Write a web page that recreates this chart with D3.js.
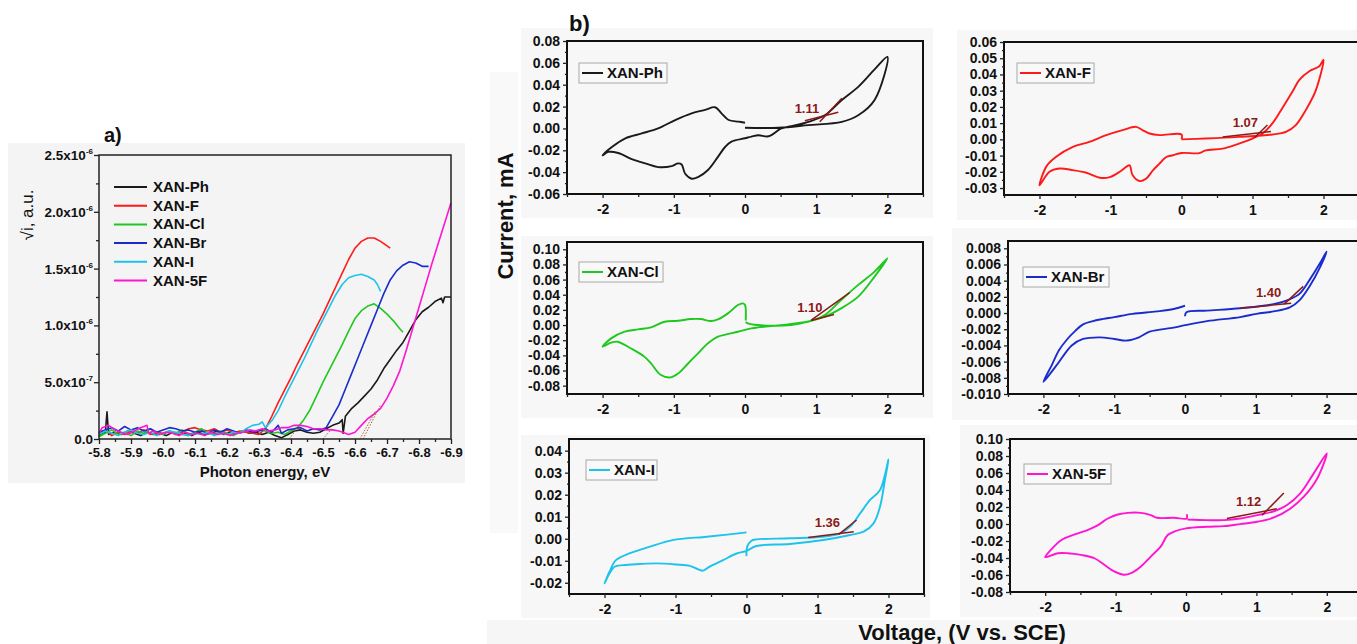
<!DOCTYPE html>
<html>
<head>
<meta charset="utf-8">
<script src="https://cdn.jsdelivr.net/npm/d3@7"></script>
<style>
  body { margin: 0; background: #fff; }
  text { font-family: Arial, "Liberation Sans", sans-serif; }
</style>
</head>
<body>
<script>
// ---------- panel a : UPS spectra (sqrt i, in units of 1e-6) ----------
const upsNames = ["XAN-Ph", "XAN-F", "XAN-Cl", "XAN-Br", "XAN-I", "XAN-5F"];
const seriesColors = ["#1a1a1a", "#ff1a1a", "#1ec81e", "#1a2ccc", "#1ec3eb", "#ff14d2"];
const energyTicks = [-5.8, -5.9, -6.0, -6.1, -6.2, -6.3, -6.4, -6.5, -6.6, -6.7, -6.8, -6.9];
const energyMinor = [-5.85, -5.95, -6.05, -6.15, -6.25, -6.35, -6.45, -6.55, -6.65, -6.75, -6.85];
const upsYTicks = [0, 0.5, 1.0, 1.5, 2.0, 2.5];
const upsYMinor = [0.25, 0.75, 1.25, 1.75, 2.25];
const upsYLabels = [["0.0", ""], ["5.0x10", "-7"], ["1.0x10", "-6"], ["1.5x10", "-6"], ["2.0x10", "-6"], ["2.5x10", "-6"]];

const upsPh = [[-5.80,0.03],[-5.81,0.05],[-5.82,0.06],[-5.825,0.24],[-5.83,0.04],[-5.85,0.06],[-5.87,0.04],[-5.89,0.07],
  [-5.91,0.05],[-5.93,0.03],[-5.95,0.06],[-5.97,0.04],[-5.99,0.05],[-6.01,0.03],[-6.03,0.06],[-6.05,0.04],[-6.07,0.05],
  [-6.09,0.03],[-6.11,0.06],[-6.13,0.04],[-6.15,0.05],[-6.17,0.07],[-6.19,0.04],[-6.21,0.06],[-6.23,0.05],[-6.25,0.07],
  [-6.27,0.05],[-6.29,0.06],[-6.31,0.04],[-6.33,0.06],[-6.35,0.03],[-6.37,0.01],[-6.39,0.04],[-6.41,0.07],[-6.43,0.08],
  [-6.45,0.06],[-6.47,0.05],[-6.49,0.06],[-6.51,0.09],[-6.53,0.12],[-6.55,0.14],[-6.56,0.17],[-6.563,0.05],[-6.57,0.2],
  [-6.59,0.27],[-6.61,0.32],[-6.63,0.38],[-6.65,0.44],[-6.67,0.52],[-6.69,0.62],[-6.71,0.70],[-6.73,0.78],[-6.75,0.85],
  [-6.77,0.95],[-6.79,1.05],[-6.81,1.12],[-6.83,1.16],[-6.85,1.21],[-6.87,1.24],[-6.875,1.20],[-6.88,1.25],[-6.9,1.25]];
const upsF = [[-5.80,0.05],[-5.82,0.08],[-5.84,0.03],[-5.86,0.06],[-5.88,0.04],[-5.90,0.07],[-5.92,0.05],[-5.94,0.08],
  [-5.96,0.04],[-5.98,0.06],[-6.00,0.05],[-6.02,0.07],[-6.04,0.04],[-6.06,0.06],[-6.08,0.09],[-6.10,0.10],[-6.12,0.08],
  [-6.14,0.07],[-6.16,0.09],[-6.18,0.06],[-6.20,0.08],[-6.22,0.05],[-6.24,0.07],[-6.26,0.06],[-6.28,0.05],[-6.30,0.04],
  [-6.32,0.09],[-6.34,0.20],[-6.36,0.32],[-6.38,0.43],[-6.40,0.54],[-6.42,0.66],[-6.44,0.77],[-6.46,0.88],[-6.48,0.99],
  [-6.50,1.10],[-6.52,1.22],[-6.54,1.34],[-6.56,1.46],[-6.58,1.58],[-6.60,1.68],[-6.61,1.71],[-6.62,1.74],[-6.64,1.77],
  [-6.66,1.77],[-6.68,1.74],[-6.70,1.70],[-6.71,1.68]];
const upsCl = [[-5.80,0.02],[-5.82,0.05],[-5.84,0.08],[-5.86,0.04],[-5.88,0.06],[-5.90,0.03],[-5.92,0.07],[-5.94,0.05],
  [-5.96,0.09],[-5.98,0.06],[-6.00,0.04],[-6.02,0.07],[-6.04,0.05],[-6.06,0.08],[-6.08,0.04],[-6.10,0.06],[-6.12,0.09],
  [-6.14,0.05],[-6.16,0.04],[-6.18,0.07],[-6.20,0.05],[-6.22,0.03],[-6.24,0.06],[-6.26,0.08],[-6.28,0.06],[-6.30,0.08],
  [-6.32,0.07],[-6.34,0.05],[-6.36,0.06],[-6.38,0.04],[-6.40,0.07],[-6.42,0.10],[-6.44,0.17],[-6.46,0.26],[-6.48,0.38],
  [-6.50,0.50],[-6.52,0.61],[-6.54,0.72],[-6.56,0.83],[-6.58,0.95],[-6.60,1.06],[-6.62,1.13],[-6.64,1.17],[-6.66,1.19],
  [-6.68,1.15],[-6.70,1.10],[-6.72,1.04],[-6.74,0.97],[-6.75,0.94]];
const upsBr = [[-5.80,0.06],[-5.82,0.08],[-5.84,0.10],[-5.86,0.07],[-5.88,0.11],[-5.90,0.08],[-5.92,0.10],[-5.94,0.07],
  [-5.96,0.09],[-5.98,0.06],[-6.00,0.08],[-6.02,0.10],[-6.04,0.09],[-6.06,0.07],[-6.08,0.08],[-6.10,0.06],[-6.12,0.07],
  [-6.14,0.05],[-6.16,0.08],[-6.18,0.06],[-6.20,0.09],[-6.22,0.07],[-6.24,0.05],[-6.26,0.08],[-6.28,0.06],[-6.30,0.07],
  [-6.32,0.09],[-6.34,0.06],[-6.36,0.12],[-6.37,0.05],[-6.39,0.08],[-6.41,0.09],[-6.43,0.10],[-6.45,0.07],[-6.47,0.09],
  [-6.49,0.08],[-6.51,0.10],[-6.53,0.20],[-6.55,0.30],[-6.57,0.44],[-6.59,0.58],[-6.61,0.72],[-6.63,0.86],[-6.65,1.00],
  [-6.67,1.14],[-6.69,1.28],[-6.71,1.40],[-6.73,1.48],[-6.75,1.53],[-6.77,1.56],[-6.79,1.55],[-6.81,1.52],[-6.83,1.52]];
const upsI = [[-5.80,0.04],[-5.82,0.07],[-5.84,0.05],[-5.86,0.03],[-5.88,0.06],[-5.90,0.08],[-5.92,0.05],[-5.94,0.04],
  [-5.96,0.06],[-5.98,0.03],[-6.00,0.05],[-6.02,0.07],[-6.04,0.06],[-6.06,0.04],[-6.08,0.03],[-6.10,0.05],[-6.12,0.04],
  [-6.14,0.06],[-6.16,0.03],[-6.18,0.05],[-6.20,0.04],[-6.22,0.06],[-6.24,0.05],[-6.26,0.09],[-6.28,0.12],[-6.30,0.13],
  [-6.31,0.15],[-6.32,0.10],[-6.34,0.16],[-6.36,0.25],[-6.38,0.37],[-6.40,0.48],[-6.42,0.59],[-6.44,0.70],[-6.46,0.82],
  [-6.48,0.94],[-6.50,1.05],[-6.52,1.16],[-6.54,1.27],[-6.56,1.36],[-6.58,1.42],[-6.60,1.44],[-6.62,1.45],[-6.64,1.43],
  [-6.66,1.40],[-6.67,1.36],[-6.68,1.30]];
const ups5F = [[-5.80,0.05],[-5.81,0.10],[-5.83,0.12],[-5.85,0.08],[-5.87,0.06],[-5.89,0.04],[-5.91,0.07],[-5.93,0.10],
  [-5.95,0.12],[-5.955,0.05],[-5.97,0.07],[-5.99,0.04],[-6.01,0.06],[-6.03,0.05],[-6.05,0.03],[-6.07,0.06],[-6.09,0.04],
  [-6.11,0.05],[-6.13,0.03],[-6.15,0.06],[-6.17,0.04],[-6.19,0.05],[-6.21,0.03],[-6.23,0.05],[-6.25,0.06],[-6.27,0.08],
  [-6.29,0.07],[-6.31,0.09],[-6.33,0.07],[-6.35,0.08],[-6.37,0.10],[-6.39,0.10],[-6.41,0.12],[-6.43,0.12],[-6.45,0.11],
  [-6.47,0.09],[-6.49,0.09],[-6.51,0.08],[-6.53,0.08],[-6.55,0.07],[-6.57,0.05],[-6.58,0.04],[-6.60,0.06],[-6.62,0.12],
  [-6.64,0.18],[-6.66,0.22],[-6.68,0.27],[-6.70,0.36],[-6.72,0.47],[-6.74,0.60],[-6.76,0.78],[-6.78,0.97],[-6.80,1.16],
  [-6.82,1.35],[-6.84,1.54],[-6.86,1.72],[-6.88,1.90],[-6.90,2.08]];
const upsSeries = [upsPh, upsF, upsCl, upsBr, upsI, ups5F];
// dotted onset extrapolations near the baseline
const upsOnsets = [[[-6.395,0],[-6.425,0.12]], [[-6.50,0],[-6.53,0.10]], [[-6.615,0],[-6.665,0.25]], [[-6.625,0],[-6.68,0.30]]];

// ---------- panel b : cyclic voltammograms, [V, mA] ----------
const voltTicks = [-2, -1, 0, 1, 2];
const voltMinor = [-2.5, -1.5, -0.5, 0.5, 1.5, 2.5];

const cvPh = [[0.00,0.0006],[0.47,0.0006],[0.89,0.003],[1.36,0.006],[1.59,0.012],[1.82,0.026],[2.0,0.0655],
  [1.82,0.054],[1.59,0.038],[1.36,0.026],[1.12,0.012],[0.89,0.006],[0.65,0.002],[0.51,0.0],[0.33,-0.0072],[0.19,-0.0062],
  [0.09,-0.0075],[0.0,-0.009],[-0.19,-0.012],[-0.28,-0.017],[-0.38,-0.026],[-0.52,-0.038],[-0.66,-0.0445],[-0.75,-0.046],
  [-0.84,-0.0415],[-0.89,-0.033],[-0.94,-0.032],[-1.03,-0.0345],[-1.22,-0.0354],[-1.40,-0.032],[-1.59,-0.028],
  [-1.78,-0.0225],[-1.92,-0.0215],[-2.0,-0.0246],[-1.87,-0.017],[-1.68,-0.009],[-1.45,-0.0046],[-1.22,0.0],
  [-0.98,0.0077],[-0.75,0.0138],[-0.56,0.017],[-0.42,0.0194],[-0.33,0.0138],[-0.23,0.0077],[-0.09,0.0062],[0.0,0.0052]];
const cvF = [[0.0,0.0],[0.34,0.0005],[0.81,0.0015],[1.28,0.003],[1.47,0.0046],[1.61,0.0088],[1.75,0.018],[1.89,0.030],
  [2.0,0.049],[1.94,0.045],[1.8,0.042],[1.66,0.0367],[1.57,0.030],[1.43,0.020],[1.28,0.0098],[1.14,0.0036],[1.0,0.0005],
  [0.81,-0.0026],[0.58,-0.0057],[0.34,-0.0068],[0.25,-0.0085],[0.0,-0.0084],[-0.12,-0.0098],[-0.22,-0.011],[-0.31,-0.015],
  [-0.4,-0.019],[-0.5,-0.0243],[-0.59,-0.0257],[-0.69,-0.022],[-0.73,-0.016],[-0.78,-0.017],[-0.87,-0.020],
  [-1.01,-0.0233],[-1.15,-0.0237],[-1.34,-0.0206],[-1.53,-0.019],[-1.72,-0.018],[-1.86,-0.020],[-2.0,-0.0284],
  [-1.9,-0.0165],[-1.77,-0.0109],[-1.53,-0.0047],[-1.3,-0.0016],[-1.06,0.0026],[-0.83,0.0057],[-0.64,0.0077],
  [-0.55,0.0057],[-0.45,0.0036],[-0.31,0.0026],[0.0,0.003],[0.0,0.0]];
const cvCl = [[0.01,0.004],[0.04,0.0022],[0.18,0.0],[0.65,0.0],[0.88,0.0044],[1.12,0.011],[1.35,0.022],[1.59,0.0375],
  [1.82,0.064],[2.0,0.088],[1.82,0.0705],[1.59,0.053],[1.35,0.033],[1.12,0.0132],[0.93,0.0057],[0.65,0.0013],
  [0.18,-0.0031],[0.09,-0.0044],[-0.1,-0.0088],[-0.29,-0.013],[-0.38,-0.0154],[-0.52,-0.024],[-0.66,-0.0374],
  [-0.8,-0.0507],[-0.94,-0.064],[-1.04,-0.069],[-1.18,-0.066],[-1.32,-0.0507],[-1.41,-0.042],[-1.6,-0.031],
  [-1.79,-0.022],[-1.88,-0.0233],[-2.0,-0.0286],[-1.88,-0.0176],[-1.69,-0.0088],[-1.5,-0.0057],[-1.32,-0.0031],
  [-1.13,0.0044],[-0.94,0.0057],[-0.76,0.0079],[-0.62,0.0079],[-0.48,0.0053],[-0.38,0.0075],[-0.24,0.0154],
  [-0.1,0.0264],[-0.03,0.0286],[0.0,0.0264],[0.01,0.006]];
const cvBr = [[0.0,-0.0004],[0.02,0.0001],[0.31,0.0003],[0.78,0.0006],[1.25,0.0011],[1.48,0.0017],[1.62,0.0024],
  [1.76,0.0041],[1.91,0.0062],[2.0,0.0076],[1.91,0.0057],[1.76,0.0033],[1.62,0.0016],[1.48,0.0007],[1.25,0.0002],
  [1.01,-0.0001],[0.78,-0.0005],[0.31,-0.001],[0.0,-0.0015],[-0.16,-0.0018],[-0.5,-0.0023],[-0.65,-0.0030],
  [-0.82,-0.0034],[-1.0,-0.0032],[-1.2,-0.0030],[-1.44,-0.0032],[-1.6,-0.0040],[-1.81,-0.0064],[-2.0,-0.0085],
  [-1.88,-0.0064],[-1.78,-0.0046],[-1.67,-0.0033],[-1.55,-0.0022],[-1.44,-0.0014],[-1.3,-0.0010],[-1.2,-0.0008],
  [-1.0,-0.0005],[-0.74,-0.0001],[-0.4,0.0002],[-0.16,0.0005],[0.0,0.0009]];
const cvI = [[0.0,-0.0079],[0.01,-0.0036],[0.07,-0.0009],[0.14,-0.0003],[0.61,0.0002],[1.08,0.0009],[1.32,0.0024],
  [1.46,0.0055],[1.6,0.0115],[1.74,0.0176],[1.88,0.0221],[2.0,0.036],[1.95,0.0267],[1.88,0.0145],[1.79,0.007],
  [1.65,0.0032],[1.46,0.0017],[1.08,-0.0006],[0.61,-0.0024],[0.14,-0.0033],[0.0,-0.0055],[-0.14,-0.0067],
  [-0.33,-0.0097],[-0.52,-0.0127],[-0.61,-0.0145],[-0.68,-0.0139],[-0.8,-0.0123],[-0.99,-0.0117],[-1.27,-0.0112],
  [-1.51,-0.0115],[-1.74,-0.012],[-1.86,-0.0127],[-1.93,-0.0158],[-2.0,-0.0203],[-1.93,-0.015],[-1.84,-0.0097],
  [-1.65,-0.0067],[-1.36,-0.0036],[-1.04,-0.0006],[-0.56,0.0009],[-0.24,0.002],[0.0,0.0029]];
const cv5F = [[0.02,0.0053],[0.3,0.0045],[0.54,0.0045],[0.77,0.0065],[1.01,0.0104],[1.25,0.015],[1.43,0.022],
  [1.62,0.0357],[1.81,0.059],[2.0,0.083],[1.86,0.053],[1.67,0.0318],[1.48,0.018],[1.25,0.0077],[1.01,0.0026],
  [0.77,-0.0001],[0.54,-0.0025],[0.3,-0.0033],[0.0,-0.0052],[-0.17,-0.009],[-0.26,-0.013],[-0.36,-0.0266],
  [-0.5,-0.0383],[-0.64,-0.05],[-0.78,-0.0578],[-0.88,-0.0597],[-1.02,-0.0558],[-1.16,-0.048],[-1.3,-0.0403],
  [-1.49,-0.0364],[-1.68,-0.0344],[-1.82,-0.0344],[-2.0,-0.039],[-1.92,-0.0305],[-1.77,-0.0188],[-1.58,-0.0122],
  [-1.4,-0.0071],[-1.25,-0.0013],[-1.11,0.0065],[-0.97,0.0112],[-0.83,0.0131],[-0.64,0.0131],[-0.5,0.0104],
  [-0.41,0.0073],[-0.17,0.0073],[0.01,0.0065],[0.01,0.0115]];

// onset tangents and onset potentials
const tanPh = [[[0.84,0.0071],[1.31,0.0148]], [[1.05,0.0062],[1.36,0.0277]]];
const tanF = [[[0.58,0.0015],[1.26,0.0049]], [[1.03,0.0011],[1.21,0.0088]]];
const tanCl = [[[0.93,0.0066],[1.47,0.0427]], [[0.93,0.006],[1.25,0.014]]];
const tanBr = [[[0.78,0.0006],[1.5,0.0012]], [[1.4,0.0011],[1.67,0.0033]]];
const tanI = [[[0.87,0.0006],[1.51,0.0032]], [[1.3,0.002],[1.55,0.0085]]];
const tan5F = [[[0.58,0.0065],[1.29,0.018]], [[1.08,0.0104],[1.39,0.0365]]];
const onsetText = ["1.11", "1.07", "1.10", "1.40", "1.36", "1.12"];
const onsetPos = [[0.87,0.0185], [0.90,0.0102], [0.91,0.0233], [1.18,0.00253], [1.14,0.0073], [0.89,0.0267]];

const ticksPh = [-0.06,-0.04,-0.02,0,0.02,0.04,0.06,0.08];
const ticksF = [-0.03,-0.02,-0.01,0,0.01,0.02,0.03,0.04,0.05,0.06];
const ticksCl = [-0.08,-0.06,-0.04,-0.02,0,0.02,0.04,0.06,0.08,0.10];
const ticksBr = [-0.010,-0.008,-0.006,-0.004,-0.002,0,0.002,0.004,0.006,0.008];
const ticksI = [-0.02,-0.01,0,0.01,0.02,0.03,0.04];
const ticks5F = [-0.08,-0.06,-0.04,-0.02,0,0.02,0.04,0.06,0.08,0.10];

const cvData = [cvPh, cvF, cvCl, cvBr, cvI, cv5F];
const cvTangents = [tanPh, tanF, tanCl, tanBr, tanI, tan5F];
const cvTicks = [ticksPh, ticksF, ticksCl, ticksBr, ticksI, ticks5F];
const cvYDomains = [[-0.06,0.08], [-0.0343,0.06], [-0.091,0.1096], [-0.010,0.0089], [-0.0251,0.0453], [-0.08,0.10]];

// layout of each CV frame (pixels)
const cvLayout = [
  {bg:[521,28,412,190], x:[567,923], y:[41,194], dec:2, leg:[579,63,88]},
  {bg:[957,30,400,190], x:[1004,1359], y:[42,195], dec:2, leg:[1017,63,77]},
  {bg:[521,236,412,182], x:[567,923], y:[242,394], dec:2, leg:[579,262,84]},
  {bg:[952,228,405,192], x:[1008,1362], y:[241,394], dec:3, leg:[1023,267,86]},
  {bg:[521,435,409,183], x:[569,924], y:[439,594], dec:2, leg:[586,460,71]},
  {bg:[960,425,397,192], x:[1010,1362], y:[439,592], dec:2, leg:[1024,464,87]}
];

const TANGENT = "#8b1a1a";
const svg = d3.select("body").append("svg").attr("width", 1357).attr("height", 644);

drawPanelA();
drawPanelB();

function styleAxis(g, size, bold) {
  g.select(".domain").remove();
  g.selectAll(".tick line").attr("stroke", "#222").attr("stroke-width", 1.3);
  g.selectAll(".tick text").attr("fill", "#111").attr("font-size", size)
    .attr("font-weight", bold ? "bold" : "normal")
    .attr("font-family", "Arial, 'Liberation Sans', sans-serif");
}

function drawPanelA() {
  const x = d3.scaleLinear().domain([-5.8, -6.9]).range([99, 451]);
  const y = d3.scaleLinear().domain([0, 2.5]).range([439, 155]);

  svg.append("rect").attr("x", 8).attr("y", 143).attr("width", 457).attr("height", 340).attr("fill", "#f4f4f4");

  const line = d3.line().x(d => x(d[0])).y(d => y(d[1]));
  svg.append("g").selectAll("path.ups")
    .data(upsSeries)
    .enter().append("path")
      .attr("class", "ups")
      .attr("d", line)
      .attr("fill", "none")
      .attr("stroke", (d, i) => seriesColors[i])
      .attr("stroke-width", 1.6)
      .attr("stroke-linejoin", "round");

  svg.append("g").selectAll("path.onset")
    .data(upsOnsets)
    .enter().append("path")
      .attr("d", line)
      .attr("stroke", "#a0522d").attr("stroke-width", 0.9)
      .attr("stroke-dasharray", "1.5,1.5").attr("fill", "none");

  svg.append("rect").attr("x", 99).attr("y", 155).attr("width", 352).attr("height", 284)
    .attr("fill", "none").attr("stroke", "#222").attr("stroke-width", 1.5);

  const gx = svg.append("g").attr("transform", "translate(0,439)")
    .call(d3.axisBottom(x).tickValues(energyTicks).tickFormat(d => d.toFixed(1)).tickSize(5).tickPadding(4));
  styleAxis(gx, 13, true);
  styleAxis(svg.append("g").attr("transform", "translate(0,439)")
    .call(d3.axisBottom(x).tickValues(energyMinor).tickFormat("").tickSize(3)), 13, true);

  const gy = svg.append("g").attr("transform", "translate(99,0)")
    .call(d3.axisLeft(y).tickValues(upsYTicks).tickFormat("").tickSize(5));
  styleAxis(gy, 13, true);
  styleAxis(svg.append("g").attr("transform", "translate(99,0)")
    .call(d3.axisLeft(y).tickValues(upsYMinor).tickFormat("").tickSize(3)), 13, true);

  const yl = svg.append("g").selectAll("text")
    .data(upsYTicks)
    .enter().append("text")
      .attr("x", 93).attr("y", d => y(d) + 5)
      .attr("text-anchor", "end").attr("font-size", 13.5).attr("font-weight", "bold").attr("fill", "#111");
  yl.append("tspan").text((d, i) => upsYLabels[i][0]);
  yl.append("tspan").text((d, i) => upsYLabels[i][1]).attr("font-size", 8).attr("dy", -6);

  svg.append("text").text("a)").attr("x", 104).attr("y", 142)
    .attr("font-size", 20).attr("font-weight", "bold").attr("fill", "#111");
  svg.append("text").text("Photon energy, eV").attr("x", 265).attr("y", 477)
    .attr("text-anchor", "middle").attr("font-size", 15).attr("font-weight", "bold").attr("fill", "#111");
  svg.append("text").text("\u221Ai, a.u.")
    .attr("transform", "translate(33,215) rotate(-90)")
    .attr("text-anchor", "middle").attr("font-size", 17).attr("fill", "#111");

  // legend
  const leg = svg.append("g").attr("class", "legend").selectAll("g")
    .data(upsNames)
    .enter().append("g")
      .attr("transform", (d, i) => `translate(114, ${187 + i * 18.7})`);
  leg.append("line").attr("x1", 0).attr("x2", 33)
    .attr("stroke", (d, i) => seriesColors[i]).attr("stroke-width", 2);
  leg.append("text").text(d => d).attr("x", 39).attr("y", 5)
    .attr("font-size", 15).attr("font-weight", "bold").attr("fill", "#111");
}

function drawPanelB() {
  // faint grey strips behind the shared axis titles
  svg.append("rect").attr("x", 490).attr("y", 72).attr("width", 28).attr("height", 461).attr("fill", "#f9f9f9");
  svg.append("rect").attr("x", 487).attr("y", 620).attr("width", 870).attr("height", 24).attr("fill", "#f6f6f6");

  cvLayout.forEach((p, i) => drawCV(p, i));

  svg.append("text").text("b)").attr("x", 569).attr("y", 31)
    .attr("font-size", 22).attr("font-weight", "bold").attr("fill", "#111");
  svg.append("text").text("Current, mA")
    .attr("transform", "translate(513,216) rotate(-90)")
    .attr("text-anchor", "middle").attr("font-size", 22).attr("font-weight", "bold").attr("fill", "#111");
  svg.append("text").text("Voltage, (V vs. SCE)").attr("x", 962).attr("y", 640)
    .attr("text-anchor", "middle").attr("font-size", 22).attr("font-weight", "bold").attr("fill", "#111");
}

function drawCV(p, i) {
  const x = d3.scaleLinear().domain([-2.5, 2.5]).range(p.x);
  const y = d3.scaleLinear().domain(cvYDomains[i]).range([p.y[1], p.y[0]]);
  const g = svg.append("g").attr("class", "cv");

  g.append("rect").attr("x", p.bg[0]).attr("y", p.bg[1]).attr("width", p.bg[2]).attr("height", p.bg[3])
    .attr("fill", "#f7f7f7");

  const line = d3.line().x(d => x(d[0])).y(d => y(d[1])).curve(d3.curveCatmullRom.alpha(0.5));
  g.append("path").datum(cvData[i])
    .attr("d", line)
    .attr("fill", "none")
    .attr("stroke", seriesColors[i])
    .attr("stroke-width", 1.9)
    .attr("stroke-linejoin", "round");

  g.selectAll("path.tan")
    .data(cvTangents[i])
    .enter().append("path")
      .attr("class", "tan")
      .attr("d", d3.line().x(d => x(d[0])).y(d => y(d[1])))
      .attr("stroke", TANGENT).attr("stroke-width", 1.5).attr("fill", "none");

  g.append("text").text(onsetText[i])
    .attr("x", x(onsetPos[i][0])).attr("y", y(onsetPos[i][1]))
    .attr("dy", "0.35em").attr("text-anchor", "middle")
    .attr("font-size", 13).attr("font-weight", "bold").attr("fill", TANGENT);

  g.append("rect").attr("x", p.x[0]).attr("y", p.y[0])
    .attr("width", p.x[1] - p.x[0]).attr("height", p.y[1] - p.y[0])
    .attr("fill", "none").attr("stroke", "#111").attr("stroke-width", 2);

  const ticks = cvTicks[i];
  const step = ticks[1] - ticks[0];
  const minor = ticks.slice(0, -1).map(t => t + step / 2);

  const gy = g.append("g").attr("transform", `translate(${p.x[0]},0)`)
    .call(d3.axisLeft(y).tickValues(ticks).tickFormat(d => d.toFixed(p.dec)).tickSize(4).tickPadding(3));
  styleAxis(gy, 14, true);
  styleAxis(g.append("g").attr("transform", `translate(${p.x[0]},0)`)
    .call(d3.axisLeft(y).tickValues(minor).tickFormat("").tickSize(2)), 14, true);

  const gx = g.append("g").attr("transform", `translate(0,${p.y[1]})`)
    .call(d3.axisBottom(x).tickValues(voltTicks).tickFormat(d => String(d)).tickSize(4).tickPadding(6));
  styleAxis(gx, 14, true);
  styleAxis(g.append("g").attr("transform", `translate(0,${p.y[1]})`)
    .call(d3.axisBottom(x).tickValues(voltMinor).tickFormat("").tickSize(3)), 14, true);

  // legend box
  const [lx, ly, lw] = p.leg;
  g.append("rect").attr("x", lx).attr("y", ly).attr("width", lw).attr("height", 20)
    .attr("fill", "#f9f9f9").attr("stroke", "#a8a8a8").attr("stroke-width", 1);
  g.append("line").attr("x1", lx + 3).attr("x2", lx + 24).attr("y1", ly + 10).attr("y2", ly + 10)
    .attr("stroke", seriesColors[i]).attr("stroke-width", 2);
  g.append("text").text(upsNames[i]).attr("x", lx + 28).attr("y", ly + 15)
    .attr("font-size", 15).attr("font-weight", "bold").attr("fill", "#111");
}
</script>
</body>
</html>
